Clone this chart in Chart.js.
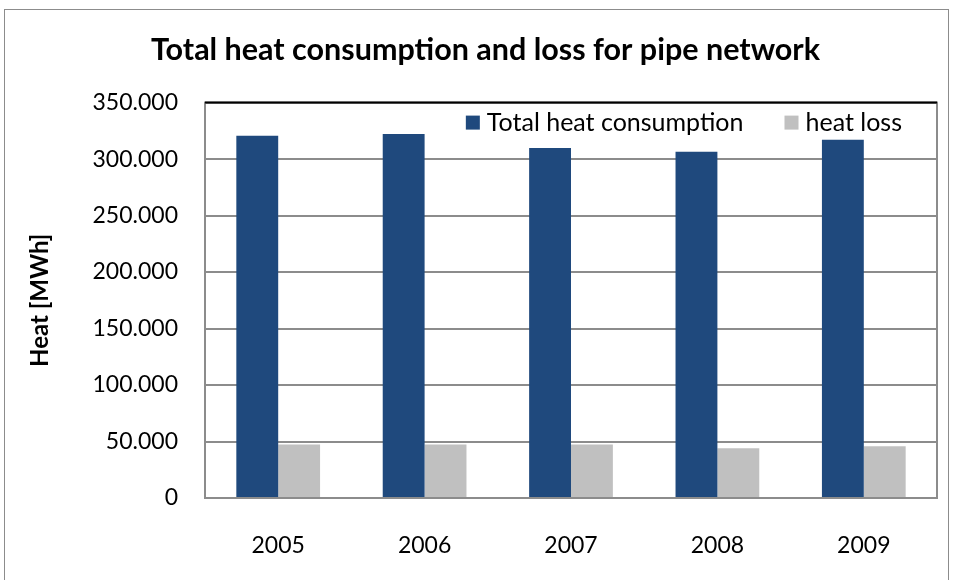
<!DOCTYPE html>
<html>
<head>
<meta charset="utf-8">
<script src="https://cdn.jsdelivr.net/npm/chart.js@4/dist/chart.umd.min.js"></script>
<style>
  html, body { margin: 0; padding: 0; background: #fff; }
  #wrap { position: relative; width: 954px; height: 580px; }
  #frame { position: absolute; left: 4px; top: 9px; width: 945px; height: 580px; border: 1px solid #8c8c8c; box-sizing: border-box; pointer-events: none; }
</style>
</head>
<body>
<div id="wrap">
  <canvas id="heatChart" width="954" height="580"></canvas>
  <div id="frame"></div>
</div>
<script>
const FONT = 'Lato, "Open Sans", sans-serif'
const TEXT = '#000000'
const GRID = '#8c8c8c'

const years = ['2005', '2006', '2007', '2008', '2009']
const totalConsumption = [320700, 322200, 309800, 306500, 317100]
const heatLoss = [47300, 47300, 47300, 44100, 45900]

// border round the plot, dark line on top like the original
const plotFrame = {
  id: 'plotFrame',
  afterDatasetsDraw(chart) {
    const { ctx, chartArea: a } = chart
    ctx.save()
    ctx.lineWidth = 2
    ctx.strokeStyle = GRID
    ctx.strokeRect(a.left, a.top, a.right - a.left, a.bottom - a.top)
    ctx.strokeStyle = '#000'
    ctx.beginPath()
    ctx.moveTo(a.left, a.top)
    ctx.lineTo(a.right, a.top)
    ctx.stroke()
    ctx.restore()
  },
}

// legend in one row inside the plot, top right
const insideLegend = {
  id: 'insideLegend',
  afterDraw(chart) {
    const { ctx, chartArea: a } = chart
    const box = 14
    const gap = 7
    const spacing = 41
    ctx.save()
    ctx.font = '25px ' + FONT
    ctx.textBaseline = 'middle'
    const y = a.top + 20
    let x = a.right - 35
    const sets = chart.data.datasets.slice().reverse()
    sets.forEach((ds) => {
      const w = ctx.measureText(ds.label).width
      const tx = x - w
      ctx.fillStyle = TEXT
      ctx.fillText(ds.label, tx, y)
      ctx.fillStyle = ds.backgroundColor
      ctx.fillRect(tx - gap - box, y - box / 2, box, box)
      x = tx - gap - box - spacing
    })
    ctx.restore()
  },
}

new Chart(document.getElementById('heatChart'), {
  type: 'bar',
  data: {
    labels: years,
    datasets: [
      {
        label: 'Total heat consumption',
        data: totalConsumption,
        backgroundColor: '#1f497d',
        categoryPercentage: 0.572,
        barPercentage: 1,
      },
      {
        label: 'heat loss',
        data: heatLoss,
        backgroundColor: '#c0c0c0',
        categoryPercentage: 0.572,
        barPercentage: 1,
      },
    ],
  },
  options: {
    responsive: false,
    animation: false,
    layout: { padding: { left: 17, right: 0, top: 0, bottom: 0 } },
    plugins: {
      title: {
        display: true,
        text: 'Total heat consumption and loss for pipe network',
        color: TEXT,
        font: { family: FONT, size: 30.5, weight: 'bold' },
        padding: { top: 32, bottom: 34 },
      },
      legend: { display: false },
      tooltip: { enabled: false },
    },
    scales: {
      x: {
        grid: { display: false, drawTicks: false },
        border: { display: false },
        ticks: { color: TEXT, font: { family: FONT, size: 23 }, padding: 34 },
        afterFit: (scale) => { scale.height = 82 },
      },
      y: {
        min: 0,
        max: 350000,
        grid: { color: GRID, lineWidth: 2, drawTicks: false },
        border: { display: false },
        ticks: {
          stepSize: 50000,
          color: TEXT,
          font: { family: FONT, size: 23 },
          padding: 27,
          callback: (v) => v === 0 ? '0' : (v / 1000).toFixed(0) + '.000',
        },
        title: {
          display: true,
          text: 'Heat [MWh]',
          color: TEXT,
          font: { family: FONT, size: 24, weight: 'bold' },
          padding: { top: 9, bottom: 0 },
        },
        afterFit: (scale) => { scale.width = 188 },
      },
      // empty strip on the right so the plot ends where the original does
      spacer: {
        type: 'linear',
        position: 'right',
        grid: { display: false, drawTicks: false },
        border: { display: false },
        ticks: { display: false },
        afterFit: (scale) => { scale.width = 17 },
      },
    },
  },
  plugins: [plotFrame, insideLegend],
})
</script>
</body>
</html>
